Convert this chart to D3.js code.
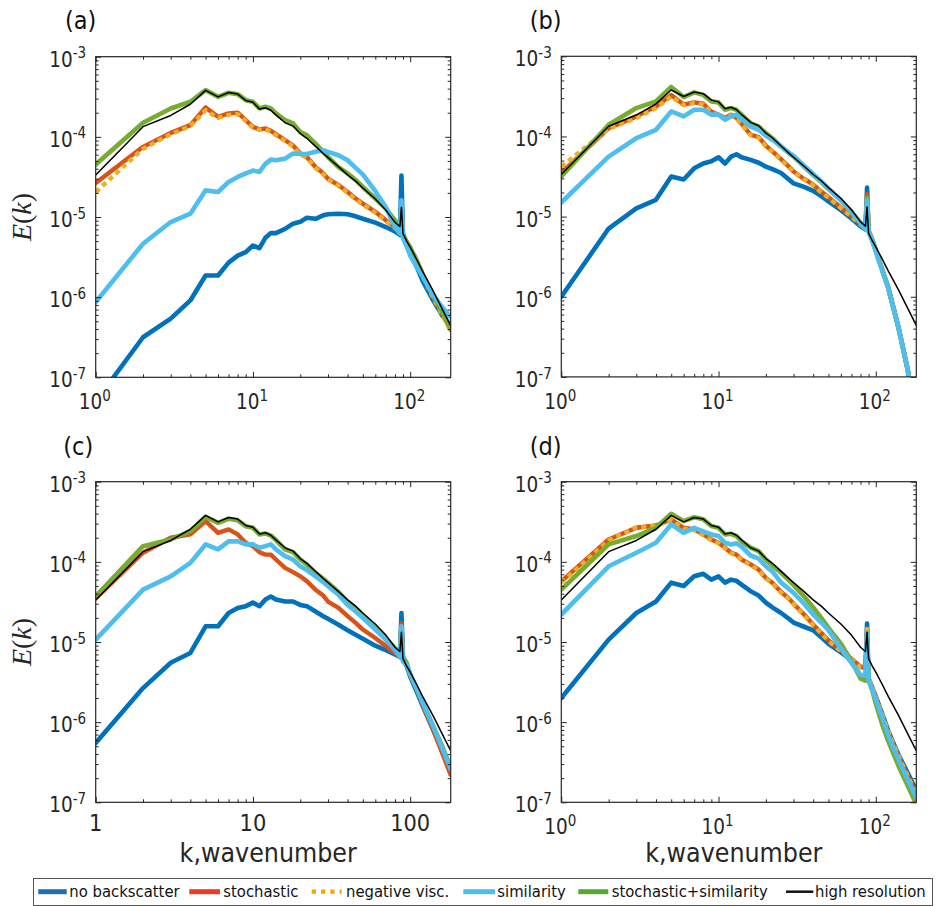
<!DOCTYPE html>
<html><head><meta charset="utf-8">
<script src="https://cdn.jsdelivr.net/npm/d3@7"></script>
<style>body{margin:0;background:#fff}svg{display:block}</style>
</head><body>
<svg id="chart" width="936" height="906"></svg>
<script>
// ---------------- DATA ----------------
const K = [1,2,3,4,5,6,7,8,9,10,11,12,13,14,16,18,20,22,25,28,30,35,40,45,50,60,70,80,86,88,90,95,100,110,120,140,160,181];

const SERIES_NAMES = ["no backscatter","stochastic","negative visc.","similarity","stochastic+similarity","high resolution"];
const PANEL_LABELS = ["(a)","(b)","(c)","(d)"];
const Y_TICKS = [1e-7,1e-6,1e-5,1e-4,1e-3];
const Y_TICK_EXP = ["-7","-6","-5","-4","-3"];
const X_TICKS = [1,10,100];
const X_TICK_EXP = ["0","1","2"];
const X_TICK_PLAIN = ["1","10","100"];
const X_LABEL = "k,wavenumber";

const HIRES = [3.35e-5,1.34e-4,1.85e-4,2.55e-4,3.8e-4,3.15e-4,3.58e-4,3.42e-4,2.84e-4,2.7e-4,2.22e-4,2.31e-4,2.15e-4,1.88e-4,1.5e-4,1.36e-4,1.1e-4,9.6e-5,7.6e-5,6.2e-5,5.5e-5,4.25e-5,3.35e-5,2.8e-5,2.3e-5,1.68e-5,1.22e-5,8.6e-6,7.6e-6,1.32e-5,6.2e-6,5.0e-6,4.2e-6,2.95e-6,2.1e-6,1.2e-6,7.1e-7,4.4e-7];

const A_NOBS = [5e-8,3.16e-7,5.4e-7,9.1e-7,1.86e-6,1.86e-6,2.7e-6,3.3e-6,3.65e-6,4.4e-6,4.1e-6,5.5e-6,6.3e-6,6.3e-6,7.1e-6,8.25e-6,8.7e-6,9.8e-6,9.5e-6,1.05e-5,1.08e-5,1.1e-5,1.08e-5,1.02e-5,9.5e-6,8.5e-6,7.5e-6,6.6e-6,6.0e-6,3.3e-5,5.6e-6,4.4e-6,3.5e-6,2.4e-6,1.6e-6,9.1e-7,5.9e-7,4.4e-7];
const A_STOCH = [2.66e-5,7.5e-5,1.12e-4,1.4e-4,2.33e-4,1.78e-4,1.96e-4,2.0e-4,1.62e-4,1.33e-4,1.24e-4,1.27e-4,1.19e-4,1.08e-4,9.1e-5,7.8e-5,6.2e-5,5.6e-5,4.2e-5,3.5e-5,3.0e-5,2.5e-5,2.05e-5,1.7e-5,1.47e-5,1.16e-5,9.1e-6,7.5e-6,6.8e-6,1.1e-5,5.9e-6,4.9e-6,4.1e-6,2.8e-6,1.9e-6,1.0e-6,6.2e-7,3.9e-7];
const A_NEGV = [2.05e-5,7.1e-5,1.08e-4,1.36e-4,2.15e-4,1.72e-4,1.88e-4,1.92e-4,1.58e-4,1.3e-4,1.22e-4,1.24e-4,1.16e-4,1.05e-4,8.9e-5,7.6e-5,6.0e-5,5.5e-5,4.1e-5,3.4e-5,2.95e-5,2.45e-5,2.0e-5,1.66e-5,1.43e-5,1.13e-5,8.9e-6,7.3e-6,6.6e-6,1.05e-5,5.8e-6,4.8e-6,4.0e-6,2.75e-6,1.85e-6,9.8e-7,6.0e-7,3.8e-7];
const A_SIM = [8.66e-7,4.64e-6,8.66e-6,1.1e-5,2.15e-5,2.05e-5,2.74e-5,3.16e-5,3.5e-5,3.8e-5,3.65e-5,4.6e-5,5.2e-5,5.1e-5,5.35e-5,6.2e-5,6.1e-5,6.1e-5,6.5e-5,6.8e-5,6.5e-5,5.9e-5,5.1e-5,4.1e-5,3.4e-5,2.1e-5,1.33e-5,7.5e-6,6.2e-6,1.62e-5,5.4e-6,4.4e-6,3.3e-6,2.4e-6,1.8e-6,1.05e-6,7.5e-7,5.6e-7];
const A_STSIM = [4.51e-5,1.5e-4,2.26e-4,2.74e-4,3.83e-4,3.16e-4,3.55e-4,3.41e-4,2.87e-4,2.74e-4,2.26e-4,2.37e-4,2.26e-4,1.96e-4,1.62e-4,1.47e-4,1.15e-4,1.05e-4,8.25e-5,6.5e-5,5.6e-5,4.2e-5,3.5e-5,2.9e-5,2.37e-5,1.7e-5,1.27e-5,9.1e-6,7.9e-6,1.0e-5,6.2e-6,4.9e-6,4.2e-6,2.9e-6,1.96e-6,1.05e-6,6.5e-7,4.0e-7];

const B_NOBS = [1.0e-6,7.1e-6,1.27e-5,1.62e-5,3.16e-5,2.9e-5,4.0e-5,4.6e-5,4.9e-5,5.5e-5,4.6e-5,5.6e-5,6.0e-5,5.5e-5,5.1e-5,4.7e-5,4.2e-5,3.9e-5,3.5e-5,2.9e-5,2.6e-5,2.35e-5,2.1e-5,1.8e-5,1.55e-5,1.2e-5,9.5e-6,7.6e-6,6.9e-6,2.3e-5,6.6e-6,5.1e-6,3.8e-6,2.15e-6,1.3e-6,4.0e-7,1.2e-7,2.5e-8];
const B_STOCH = [3.5e-5,1.27e-4,1.78e-4,2.37e-4,3.3e-4,2.5e-4,2.66e-4,2.56e-4,2.05e-4,1.87e-4,1.7e-4,1.87e-4,1.7e-4,1.45e-4,1.05e-4,9.8e-5,7.7e-5,6.5e-5,5.2e-5,4.2e-5,3.65e-5,2.95e-5,2.5e-5,2.05e-5,1.75e-5,1.3e-5,1.02e-5,8.1e-6,7.1e-6,1.9e-5,6.7e-6,5.1e-6,3.8e-6,2.15e-6,1.3e-6,4.0e-7,1.2e-7,2.5e-8];
const B_NEGV = [4.2e-5,1.24e-4,1.7e-4,2.26e-4,3.16e-4,2.45e-4,2.6e-4,2.5e-4,2.0e-4,1.83e-4,1.66e-4,1.83e-4,1.66e-4,1.42e-4,1.03e-4,9.6e-5,7.5e-5,6.4e-5,5.1e-5,4.1e-5,3.6e-5,2.9e-5,2.45e-5,2.0e-5,1.72e-5,1.28e-5,1.0e-5,8.0e-6,7.0e-6,1.8e-5,6.6e-6,5.1e-6,3.8e-6,2.15e-6,1.3e-6,4.0e-7,1.2e-7,2.5e-8];
const B_SIM = [1.5e-5,5.6e-5,9.5e-5,1.21e-4,2.05e-4,1.78e-4,2.15e-4,2.15e-4,1.87e-4,1.87e-4,1.62e-4,1.78e-4,1.87e-4,1.65e-4,1.33e-4,1.21e-4,1.02e-4,9.1e-5,7.5e-5,6.3e-5,5.75e-5,4.3e-5,3.4e-5,2.75e-5,2.25e-5,1.6e-5,1.15e-5,8.3e-6,6.9e-6,1.6e-5,6.5e-6,5.0e-6,3.7e-6,2.1e-6,1.28e-6,4.0e-7,1.2e-7,2.5e-8];
const B_STSIM = [3.16e-5,1.4e-4,2.26e-4,2.74e-4,4.14e-4,3.1e-4,3.55e-4,3.3e-4,2.74e-4,2.66e-4,2.15e-4,2.26e-4,2.15e-4,1.87e-4,1.47e-4,1.33e-4,1.1e-4,9.5e-5,7.5e-5,6.2e-5,5.6e-5,4.2e-5,3.3e-5,2.7e-5,2.2e-5,1.6e-5,1.15e-5,8.4e-6,7.4e-6,1.7e-5,6.6e-6,5.1e-6,3.76e-6,2.15e-6,1.3e-6,4.0e-7,1.2e-7,2.5e-8];

const C_NOBS = [5.5e-7,2.66e-6,5.5e-6,7.3e-6,1.57e-5,1.57e-5,2.3e-5,2.65e-5,2.8e-5,3.1e-5,2.8e-5,3.4e-5,3.7e-5,3.4e-5,3.2e-5,3.2e-5,2.9e-5,2.8e-5,2.4e-5,2.1e-5,1.95e-5,1.64e-5,1.4e-5,1.23e-5,1.1e-5,9.0e-6,7.9e-6,7.0e-6,6.5e-6,2.3e-5,6.0e-6,5.0e-6,3.7e-6,2.4e-6,1.6e-6,8.0e-7,4.5e-7,2.6e-7];
const C_STOCH = [3.5e-5,1.3e-4,2.0e-4,2.2e-4,3.22e-4,2.3e-4,2.54e-4,2.2e-4,1.73e-4,1.57e-4,1.32e-4,1.23e-4,1.23e-4,1.07e-4,8.4e-5,7.45e-5,6.6e-5,5.75e-5,4.5e-5,3.8e-5,3.2e-5,2.66e-5,2.1e-5,1.73e-5,1.43e-5,1.12e-5,8.9e-6,7.3e-6,6.5e-6,1.7e-5,5.9e-6,5.2e-6,3.9e-6,2.6e-6,1.65e-6,8.0e-7,4.1e-7,2.2e-7];
const C_NEGV = [];
const C_SIM = [1.07e-5,4.5e-5,6.6e-5,9.7e-5,1.65e-4,1.43e-4,1.8e-4,1.8e-4,1.65e-4,1.65e-4,1.5e-4,1.57e-4,1.65e-4,1.43e-4,1.18e-4,1.07e-4,8.8e-5,7.9e-5,6.6e-5,5.6e-5,5.0e-5,3.9e-5,2.9e-5,2.4e-5,2.0e-5,1.43e-5,1.07e-5,8.0e-6,6.5e-6,1.57e-5,5.7e-6,5.2e-6,4.0e-6,2.65e-6,1.75e-6,8.9e-7,4.7e-7,2.6e-7];
const C_STSIM = [3.72e-5,1.57e-4,1.9e-4,2.42e-4,3.65e-4,3.07e-4,3.45e-4,3.3e-4,2.79e-4,2.66e-4,2.2e-4,2.26e-4,2.13e-4,1.87e-4,1.43e-4,1.32e-4,1.07e-4,9.3e-5,7.3e-5,6.15e-5,5.5e-5,4.2e-5,3.2e-5,2.6e-5,2.1e-5,1.5e-5,1.12e-5,8.4e-6,7.3e-6,1.5e-5,6.6e-6,5.5e-6,3.9e-6,2.6e-6,1.75e-6,8.9e-7,5.0e-7,2.7e-7];

const D_NOBS = [2.0e-6,1.07e-5,2.3e-5,3.2e-5,5.5e-5,5.0e-5,6.6e-5,7.1e-5,6.0e-5,6.6e-5,5.5e-5,6.0e-5,5.8e-5,5.2e-5,4.3e-5,3.8e-5,3.1e-5,2.7e-5,2.3e-5,1.95e-5,1.75e-5,1.55e-5,1.4e-5,1.15e-5,9.5e-6,7.4e-6,6.0e-6,4.9e-6,4.8e-6,1.7e-5,3.5e-6,2.7e-6,2.1e-6,1.26e-6,7.8e-7,3.85e-7,2.3e-7,1.4e-7];
const D_STOCH = [5.7e-5,1.9e-4,2.66e-4,2.84e-4,3.38e-4,2.66e-4,2.54e-4,2.2e-4,1.9e-4,1.73e-4,1.5e-4,1.3e-4,1.23e-4,1.07e-4,9.3e-5,8.0e-5,6.3e-5,5.5e-5,4.2e-5,3.5e-5,3.0e-5,2.2e-5,1.65e-5,1.3e-5,1.05e-5,7.8e-6,6.2e-6,4.9e-6,4.8e-6,1.4e-5,3.5e-6,2.7e-6,2.05e-6,1.22e-6,7.5e-7,3.7e-7,2.1e-7,1.25e-7];
const D_NEGV = [5.5e-5,1.85e-4,2.7e-4,2.8e-4,3.3e-4,2.6e-4,2.5e-4,2.15e-4,1.86e-4,1.7e-4,1.47e-4,1.28e-4,1.2e-4,1.05e-4,9.1e-5,7.8e-5,6.2e-5,5.4e-5,4.1e-5,3.45e-5,2.95e-5,2.15e-5,1.62e-5,1.28e-5,1.03e-5,7.7e-6,6.1e-6,4.8e-6,4.7e-6,1.45e-5,3.5e-6,2.7e-6,2.05e-6,1.22e-6,7.5e-7,3.7e-7,2.1e-7,1.25e-7];
const D_SIM = [2.2e-5,8.8e-5,1.3e-4,1.73e-4,2.93e-4,2.3e-4,2.66e-4,2.4e-4,2.2e-4,2.1e-4,1.73e-4,1.65e-4,1.7e-4,1.55e-4,1.2e-4,1.1e-4,8.8e-5,7.6e-5,5.5e-5,4.6e-5,4.1e-5,3.0e-5,2.2e-5,1.75e-5,1.4e-5,8.3e-6,5.5e-6,3.9e-6,3.8e-6,1.3e-5,3.3e-6,2.6e-6,1.95e-6,1.15e-6,6.9e-7,3.35e-7,1.9e-7,1.15e-7];
const D_STSIM = [4.5e-5,1.65e-4,2.1e-4,2.66e-4,3.98e-4,3.22e-4,3.6e-4,3.4e-4,2.8e-4,2.66e-4,2.2e-4,2.24e-4,2.1e-4,1.8e-4,1.5e-4,1.36e-4,1.07e-4,9.0e-5,7.3e-5,5.9e-5,5.1e-5,3.7e-5,2.7e-5,2.0e-5,1.5e-5,9.5e-6,5.8e-6,3.5e-6,3.3e-6,8.7e-6,3.3e-6,2.5e-6,1.7e-6,9.3e-7,5.8e-7,2.8e-7,1.6e-7,9.5e-8];

// ---------------- LAYOUT / STYLE ----------------
const AX = "#262626";
const PLOT_COLORS = ["#0072BD","#D95319","#EDB120","#4DBEEE","#77AC30","#000000"];
const LEG_COLORS  = ["#1f6db2","#ec3a24","#f2a900","#4dbdee","#5aa935","#111111"];
const PLOT_WIDTHS = [4.6,4.4,4.4,4.6,4.6,1.5];
const DRAW_ORDER = [0,1,2,4,3,5];
const W = 355, H = 320.6;
const PANELS = [
  {label:PANEL_LABELS[0], x:95.7,  y:56.7,  lx:65,    ly:28.5, ylabel:true,  xlabel:false, plainX:false, data:[A_NOBS,A_STOCH,A_NEGV,A_SIM,A_STSIM,HIRES]},
  {label:PANEL_LABELS[1], x:561.3, y:56.3,  lx:529.7, ly:28.5, ylabel:false, xlabel:false, plainX:false, data:[B_NOBS,B_STOCH,B_NEGV,B_SIM,B_STSIM,HIRES]},
  {label:PANEL_LABELS[2], x:95.7,  y:481.7, lx:63.3,  ly:455,  ylabel:true,  xlabel:true,  plainX:true,  data:[C_NOBS,C_STOCH,C_NEGV,C_SIM,C_STSIM,HIRES]},
  {label:PANEL_LABELS[3], x:561.3, y:481.7, lx:529.7, ly:455,  ylabel:false, xlabel:true,  plainX:false, data:[D_NOBS,D_STOCH,D_NEGV,D_SIM,D_STSIM,HIRES]}
];

const svg = d3.select("#chart");
svg.append("rect").attr("width",936).attr("height",906).attr("fill","#fff");

function txt(parent, x, y, size, anchor, family){
  return parent.append("text")
    .attr("transform",`translate(${x},${y}) scale(0.9,1)`)
    .attr("font-size",size).attr("text-anchor",anchor)
    .attr("font-family",family||"DejaVu Sans").attr("fill",AX);
}

const xMinor = [2,3,4,5,6,7,8,9,20,30,40,50,60,70,80,90];
const yMinor = [];
[1e-7,1e-6,1e-5,1e-4].forEach(d=>{for(let m=2;m<=9;m++) yMinor.push(m*d);});

PANELS.forEach((p,i)=>{
  const x = d3.scaleLog().domain([1,181]).range([0,W]);
  const y = d3.scaleLog().domain([1e-7,1e-3]).range([H,0]);
  const g = svg.append("g").attr("transform",`translate(${p.x},${p.y})`);
  g.append("clipPath").attr("id","clip"+i).append("rect").attr("width",W).attr("height",H);
  const plot = g.append("g").attr("clip-path",`url(#clip${i})`);
  const line = d3.line().x((d,j)=>x(K[j])).y(d=>y(d));
  DRAW_ORDER.forEach(s=>{
    const arr = p.data[s];
    if(!arr.length) return;
    const path = plot.append("path").datum(arr).attr("d",line)
      .attr("fill","none").attr("stroke",PLOT_COLORS[s]).attr("stroke-width",PLOT_WIDTHS[s])
      .attr("stroke-linejoin","round").attr("stroke-linecap", s===2?"butt":"round");
    if(s===2) path.attr("stroke-dasharray","5,4");
  });

  // ticks (inside, MATLAB style)
  const mk = (axisFn, scale, vals, len, tr) => {
    const a = g.append("g").attr("transform",tr||null)
      .call(axisFn(scale).tickValues(vals).tickSize(-len).tickSizeOuter(0).tickFormat(""));
    a.select(".domain").remove();
    a.selectAll("line").attr("stroke",AX).attr("stroke-width",1);
  };
  mk(d3.axisBottom, x, X_TICKS, 5.5, `translate(0,${H})`);
  mk(d3.axisBottom, x, xMinor, 3, `translate(0,${H})`);
  mk(d3.axisTop, x, X_TICKS, 5.5);
  mk(d3.axisTop, x, xMinor, 3);
  mk(d3.axisLeft, y, Y_TICKS, 5.5);
  mk(d3.axisLeft, y, yMinor, 3);
  mk(d3.axisRight, y, Y_TICKS, 5.5, `translate(${W},0)`);
  mk(d3.axisRight, y, yMinor, 3, `translate(${W},0)`);

  g.append("rect").attr("width",W).attr("height",H).attr("fill","none")
    .attr("stroke",AX).attr("stroke-width",1.2);

  // y tick labels
  Y_TICKS.forEach((v,j)=>{
    const t = txt(svg, p.x-9.5, p.y+y(v)+10, 20.5, "end");
    t.append("tspan").text("10");
    t.append("tspan").attr("font-size",15).attr("dy",-8.4).text(Y_TICK_EXP[j]);
  });
  // x tick labels
  X_TICKS.forEach((v,j)=>{
    if(p.plainX){
      txt(svg, p.x+x(v), p.y+H+28.4, 23.3, "middle").text(X_TICK_PLAIN[j]);
    } else {
      const t = txt(svg, p.x+x(v)-1, p.y+H+31.6, 20.5, "middle");
      t.append("tspan").text("10");
      t.append("tspan").attr("font-size",15).attr("dy",-7.5).text(X_TICK_EXP[j]);
    }
  });
  // panel label
  txt(svg, p.lx, p.ly, 25, "start").attr("fill","#111").text(p.label);
  // y label E(k)
  if(p.ylabel){
    const t = svg.append("text")
      .attr("transform",`translate(30.5,${p.y+H/2}) rotate(-90)`)
      .attr("text-anchor","middle").attr("font-family","Liberation Serif")
      .attr("font-size",28).attr("fill",AX);
    t.append("tspan").attr("font-style","italic").text("E");
    t.append("tspan").text("(");
    t.append("tspan").attr("font-style","italic").text("k");
    t.append("tspan").text(")");
  }
  if(p.xlabel){
    txt(svg, p.x+W/2-5, 861.5, 26.5, "middle").text(X_LABEL);
  }
});

// ---------------- LEGEND ----------------
const LEG_POS = [[38.3,66.7,69.3],[189.3,220,223.3],[311.7,341.7,346],[463.3,495,497.3],[578.3,608.3,611.7],[786,813.3,815]];
const leg = svg.append("g");
leg.append("rect").attr("x",33.5).attr("y",878.5).attr("width",899).attr("height",27)
  .attr("fill","#fff").attr("stroke","#555").attr("stroke-width",1);
SERIES_NAMES.forEach((name,s)=>{
  const [x1,x2,tx] = LEG_POS[s];
  const l = leg.append("line").attr("x1",x1).attr("x2",x2).attr("y1",891.7).attr("y2",891.7)
    .attr("stroke",LEG_COLORS[s]).attr("stroke-width", s===5?2.5:5);
  if(s===2) l.attr("stroke-dasharray","4.3,5").attr("stroke-width",4.3);
  txt(leg, tx, 897.3, 16.5, "start").attr("fill","#111").text(name);
});
</script>
</body></html>
